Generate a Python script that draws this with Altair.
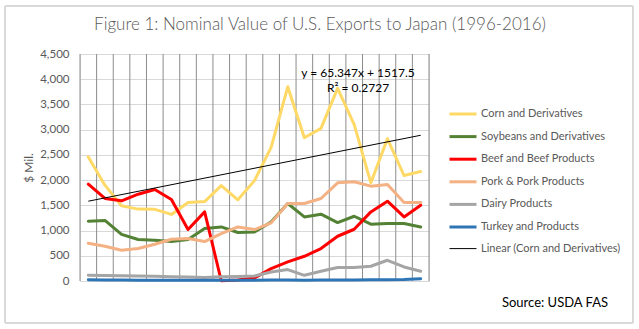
import altair as alt
import pandas as pd

years = list(range(1996, 2017))
series_names = [
    "Corn and Derivatives",
    "Soybeans and Derivatives",
    "Beef and Beef Products",
    "Pork & Pork Products",
    "Dairy Products",
    "Turkey and Products",
]
trend_name = "Linear (Corn and Derivatives)"

corn = [2460, 1900, 1490, 1425, 1420, 1320, 1555, 1575, 1890, 1610, 1990,
        2650, 3850, 2840, 3025, 3820, 3100, 1945, 2820, 2090, 2170]
soy = [1185, 1200, 925, 822, 808, 782, 822, 1040, 1072, 961, 973,
       1171, 1536, 1270, 1324, 1159, 1284, 1126, 1139, 1139, 1072]
beef = [1920, 1636, 1589, 1721, 1814, 1616, 1020, 1370, 5, 20, 60,
        246, 380, 490, 643, 887, 1026, 1370, 1582, 1270, 1503]
pork = [748, 689, 609, 643, 728, 828, 842, 782, 941, 1072, 1020,
        1152, 1536, 1536, 1636, 1946, 1966, 1880, 1913, 1556, 1556]
dairy = [112, 110, 105, 100, 92, 85, 80, 70, 85, 90, 100,
         179, 226, 113, 193, 266, 266, 292, 411, 278, 193]
turkey = [25, 20, 18, 15, 15, 15, 15, 15, 15, 15, 15,
          18, 18, 15, 18, 20, 22, 25, 25, 28, 45]

colors = ["#FFD966", "#548235", "#FF0000", "#F4B183", "#A5A5A5", "#2E75B6", "#000000"]
widths = [3, 3, 3, 3, 3, 3, 1]
y_ticks = [0, 500, 1000, 1500, 2000, 2500, 3000, 3500, 4000, 4500]

values_by_series = [corn, soy, beef, pork, dairy, turkey]
rows = []
for name, vals in zip(series_names, values_by_series):
    for yr, v in zip(years, vals):
        rows.append({"year": yr, "value": v, "series": name})
df = pd.DataFrame(rows)

bounds = pd.DataFrame({"b": [y - 0.5 for y in years] + [years[-1] + 0.5]})

FONT = "Lato"
GRAY = "#595959"
W, H = 349, 227

xscale = alt.Scale(domain=[years[0] - 0.5, years[-1] + 0.5], nice=False, zero=False)
yscale = alt.Scale(domain=[0, 4500], nice=False)

x_enc = alt.X("year:Q", scale=xscale,
              axis=alt.Axis(values=years, format="d", labelAngle=270, grid=False,
                            ticks=False, domainColor="#d9d9d9", labelColor=GRAY,
                            labelFont=FONT, labelFontSize=11, labelPadding=6,
                            title=None, labelOverlap=False))
y_enc = alt.Y("value:Q", scale=yscale,
              axis=alt.Axis(values=y_ticks, format=",.0f", grid=True, gridColor="#d9d9d9",
                            domain=False, ticks=False, labelColor=GRAY, labelFont=FONT,
                            labelFontSize=11.5, labelPadding=11, title="$ Mil.",
                            titleColor=GRAY, titleFont=FONT, titleFontSize=12,
                            titleFontWeight="normal", titlePadding=4))

all_names = series_names + [trend_name]
legend = alt.Legend(orient="none", legendX=368, legendY=45, title=None,
                    symbolType="stroke", symbolSize=729, labelFont=FONT,
                    labelFontSize=11, labelColor=GRAY, labelOffset=3,
                    rowPadding=1.6)
color_enc = alt.Color("series:N", scale=alt.Scale(domain=all_names, range=colors),
                      legend=legend)
sw_enc = alt.StrokeWidth("series:N",
                         scale=alt.Scale(type="ordinal", domain=all_names, range=widths),
                         legend=legend)

base = alt.Chart(df)

border = alt.Chart(df).mark_rect(fill="white", fillOpacity=0, stroke="#d9d9d9",
                                 strokeWidth=1).encode(
    x=alt.value(-75), x2=alt.value(553), y=alt.value(-48), y2=alt.value(269))

vgrid = alt.Chart(bounds).mark_rule(color="#8c8c8c", strokeWidth=1).encode(
    x=alt.X("b:Q", scale=xscale, axis=None))

layers = [border, vgrid]
for name in series_names:
    layers.append(
        base.transform_filter(alt.datum.series == name)
        .mark_line(strokeJoin="round", strokeCap="round")
        .encode(x=x_enc, y=y_enc, color=color_enc, strokeWidth=sw_enc)
    )

trend = (base.transform_filter(alt.datum.series == series_names[0])
         .transform_regression("year", "value", method="linear")
         .transform_calculate(series=f"'{trend_name}'")
         .mark_line()
         .encode(x=x_enc, y=y_enc, color=color_enc, strokeWidth=sw_enc))
layers.append(trend)

def label(text, x, y, size, color="#000000", weight="normal", align="center"):
    return alt.Chart(pd.DataFrame({"t": [text]})).mark_text(
        font=FONT, fontSize=size, color=color, fontWeight=weight, align=align,
        baseline="middle").encode(text="t:N", x=alt.value(x), y=alt.value(y))

layers.append(label("Figure 1: Nominal Value of U.S. Exports to Japan (1996-2016)",
                    240, -29, 17, GRAY, 300))
layers.append(label("y = 65.347x + 1517.5", 278, 19, 12))
layers.append(label("R² = 0.2727", 278, 34, 12))
layers.append(label("Source: USDA FAS", 475, 249, 13))

chart = alt.layer(*layers).properties(
    width=W, height=H,
    autosize=alt.AutoSizeParams(type="none"),
    padding={"left": 80, "top": 54, "right": 210, "bottom": 48},
).configure_view(stroke=None).configure(background="white")

chart.save("out.html", embed_options={"renderer": "svg", "actions": False})
